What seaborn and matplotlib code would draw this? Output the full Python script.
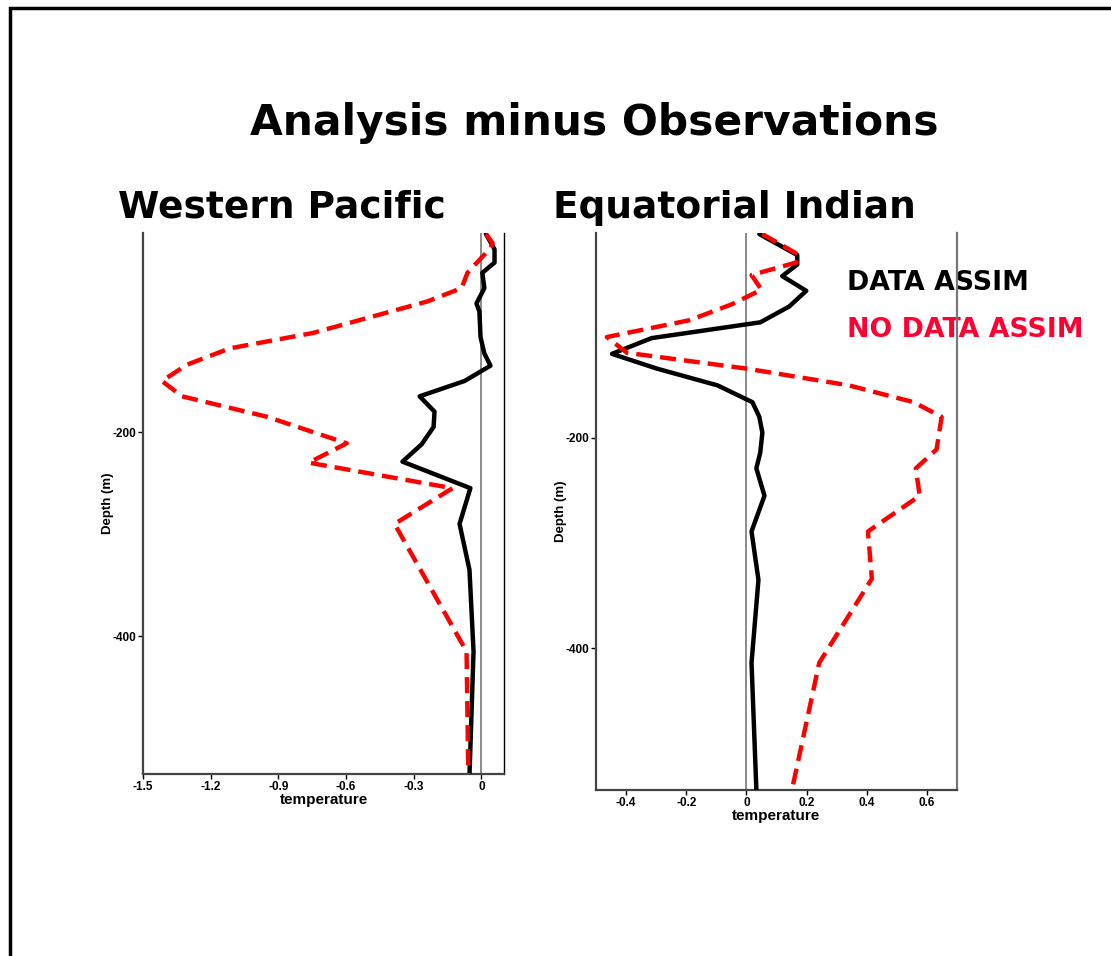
import matplotlib
matplotlib.use("Agg")
import matplotlib.pyplot as plt
from matplotlib.patches import Rectangle
import seaborn as sns
import pandas as pd

# ---------------- data ----------------
runs = ["DATA ASSIM", "NO DATA ASSIM"]

# Western Pacific
wp_da_depth = [-6, -21, -34, -44, -59, -74, -82, -107, -123, -135, -150, -165, -180,
               -195, -212, -229, -255, -290, -335, -415, -536]
wp_da_temp = [0.02, 0.058, 0.058, 0.004, 0.013, -0.022, -0.009, -0.004, 0.013, 0.04,
              -0.075, -0.274, -0.208, -0.212, -0.265, -0.35, -0.049, -0.097, -0.053,
              -0.035, -0.053]
wp_nda_depth = [-6, -15, -21, -44, -59, -72, -103, -118, -134, -150, -165, -185,
                -211, -230, -255, -290, -415, -536]
wp_nda_temp = [0.02, 0.05, 0.035, -0.062, -0.088, -0.239, -0.748, -1.115, -1.305,
               -1.416, -1.327, -0.951, -0.597, -0.765, -0.128, -0.385, -0.066, -0.058]

# Equatorial Indian
io_da_depth = [-6, -26, -35, -46, -60, -75, -90, -105, -120, -134, -150, -166, -180,
               -195, -214, -229, -255, -289, -335, -414, -534]
io_da_temp = [0.043, 0.169, 0.169, 0.119, 0.199, 0.142, 0.046, -0.315, -0.447, -0.298,
              -0.096, 0.020, 0.043, 0.053, 0.046, 0.033, 0.06, 0.017, 0.04, 0.017, 0.033]
io_nda_depth = [-6, -26, -33, -45, -59, -73, -88, -104, -119, -134, -150, -166, -180,
                -211, -229, -255, -289, -334, -414, -534]
io_nda_temp = [0.053, 0.175, 0.166, 0.017, 0.05, -0.05, -0.189, -0.464, -0.397, 0.0,
               0.341, 0.556, 0.649, 0.632, 0.563, 0.576, 0.404, 0.417, 0.242, 0.152]

wp_xticks = [-1.5, -1.2, -0.9, -0.6, -0.3, 0]
wp_xlabels = ["-1.5", "-1.2", "-0.9", "-0.6", "-0.3", "0"]
io_xticks = [-0.4, -0.2, 0, 0.2, 0.4, 0.6]
io_xlabels = ["-0.4", "-0.2", "0", "0.2", "0.4", "0.6"]
yticks = [-200, -400]
ylabels = ["-200", "-400"]

title = "Analysis minus Observations"
panel_titles = ["Western Pacific", "Equatorial Indian"]


def frame(da_d, da_t, nda_d, nda_t):
    return pd.DataFrame({
        "depth": list(da_d) + list(nda_d),
        "temperature": list(da_t) + list(nda_t),
        "run": [runs[0]] * len(da_d) + [runs[1]] * len(nda_d),
    })


wp = frame(wp_da_depth, wp_da_temp, wp_nda_depth, wp_nda_temp)
io = frame(io_da_depth, io_da_temp, io_nda_depth, io_nda_temp)

# ---------------- figure ----------------
sns.set_style("white")
plt.rcParams["font.family"] = ["DejaVu Sans"]
plt.rcParams["text.color"] = "black"
plt.rcParams["axes.labelcolor"] = "black"
plt.rcParams["xtick.color"] = "black"
plt.rcParams["ytick.color"] = "black"

fig = plt.figure(figsize=(11.11, 9.56), dpi=100)
fig.patch.set_facecolor("white")

W, H = 1111, 956
ax1 = fig.add_axes([143 / W, 1 - 774 / H, 361 / W, 541 / H])
ax2 = fig.add_axes([596 / W, 1 - 790 / H, 361 / W, 557 / H])

palette = {runs[0]: "black", runs[1]: "#ff0000"}
dashes = {runs[0]: "", runs[1]: (3.6, 1.8)}

tickfont = dict(family="Liberation Sans", weight="bold", size=8.5, color="black")
labfont = dict(family="Liberation Sans", weight="bold", color="black")

for ax, df, xlim, xt, xl in [
    (ax1, wp, (-1.5, 0.1), wp_xticks, wp_xlabels),
    (ax2, io, (-0.5, 0.7), io_xticks, io_xlabels),
]:
    ax.axvline(0, color="#777777", lw=1.2, zorder=1)
    sns.lineplot(data=df, x="temperature", y="depth", hue="run", style="run",
                 palette=palette, dashes=dashes, sort=False, estimator=None,
                 lw=3.2, legend=False, ax=ax, zorder=3)
    ax.set_xlim(*xlim)
    ax.set_ylim(-535, -5)
    ax.set_xticks(xt)
    ax.set_xticklabels(xl, fontdict=tickfont)
    ax.set_yticks(yticks)
    ax.set_yticklabels(ylabels, fontdict=tickfont)
    ax.tick_params(axis="both", direction="out", length=3.5, width=1,
                   pad=1.5, colors="black", bottom=True, left=True)
    ax.spines["top"].set_visible(False)
    for s in ["left", "bottom"]:
        ax.spines[s].set_color("#444444")
        ax.spines[s].set_linewidth(1.6)
    ax.set_xlabel("temperature", fontsize=11, labelpad=0, **labfont)
    ax.set_ylabel("Depth (m)", fontsize=9.5, labelpad=-1, **labfont)
    ax.grid(False)
    ax.set_facecolor("white")

ax1.spines["right"].set_color("black")
ax1.spines["right"].set_linewidth(1.0)
ax2.spines["right"].set_color("#777777")
ax2.spines["right"].set_linewidth(1.6)

# Titles
fig.text(594 / W, 1 - 135 / H, title, ha="center", va="baseline",
         fontsize=30.5, fontweight="bold", family="DejaVu Sans", color="black")
fig.text(118 / W, 1 - 218 / H, panel_titles[0], ha="left", va="baseline",
         fontsize=27, fontweight="bold", family="DejaVu Sans", color="black")
fig.text(553 / W, 1 - 218 / H, panel_titles[1], ha="left", va="baseline",
         fontsize=27, fontweight="bold", family="DejaVu Sans", color="black")

# Legend-like labels (drawn under the right spine)
ax2.text(847 / W, 1 - 290 / H, runs[0], transform=fig.transFigure, ha="left",
         va="baseline", fontsize=19.3, fontweight="bold", color="black",
         family="DejaVu Sans", zorder=1, clip_on=False)
ax2.text(847 / W, 1 - 337 / H, runs[1], transform=fig.transFigure, ha="left",
         va="baseline", fontsize=19.3, fontweight="bold", color="#ff0033",
         family="DejaVu Sans", zorder=1, clip_on=False)

# Outer frame
fig.add_artist(Rectangle((9.5 / W, -0.1), 1.2, 0.1 + 1 - 8 / H,
                         transform=fig.transFigure, fill=False,
                         edgecolor="black", lw=2.5, clip_on=False))

fig.savefig("out.png", dpi=100, facecolor="white")
